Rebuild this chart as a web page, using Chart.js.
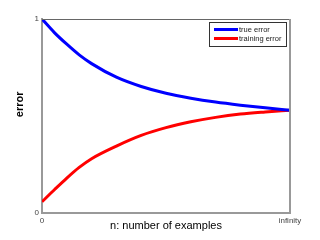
<!DOCTYPE html>
<html>
<head>
<meta charset="utf-8">
<script src="https://cdn.jsdelivr.net/npm/chart.js@4/dist/chart.umd.min.js"></script>
<style>
html,body{margin:0;padding:0;background:#fff;}
#c{display:block;}
</style>
</head>
<body>
<canvas id="c" width="320" height="240"></canvas>
<script>
// Data
const nValues = [0, 5, 10, 15, 20, 30, 40, 50, 60, 70, 80, 90, 100];
const trueError = [1.0, 0.93, 0.87, 0.815, 0.77, 0.70, 0.652, 0.617, 0.592, 0.572, 0.556, 0.542, 0.53];
const trainingError = [0.058, 0.12, 0.18, 0.235, 0.28, 0.345, 0.40, 0.44, 0.47, 0.493, 0.51, 0.521, 0.53];
const seriesNames = ["true error", "training error"];
const xTickValues = [0, 100];
const xTickLabels = ["0", "infinity"];
const yTickValues = [0, 1];
const yTickLabels = ["0", "1"];
const xTitle = "n: number of examples";
const yTitle = "error";

const FONT = "'Liberation Sans', Arial, Helvetica, sans-serif";

function toPoints(xs, ys) { return xs.map((x, i) => ({x: x, y: ys[i]})); }

const boxPlugin = {
  id: 'boxPlugin',
  afterDraw(chart) {
    const ctx = chart.ctx;
    const a = chart.chartArea;
    ctx.save();
    // top and right box lines
    ctx.strokeStyle = '#666';
    ctx.lineWidth = 1;
    ctx.beginPath();
    ctx.moveTo(a.left, a.top + 0.5);
    ctx.lineTo(a.right, a.top + 0.5);
    ctx.stroke();
    ctx.strokeStyle = '#999';
    ctx.lineWidth = 2;
    ctx.beginPath();
    ctx.moveTo(a.right, a.top);
    ctx.lineTo(a.right, a.bottom);
    ctx.stroke();

    // y title
    ctx.fillStyle = '#000';
    ctx.font = "bold 11px " + FONT;
    ctx.textAlign = 'center';
    ctx.textBaseline = 'middle';
    ctx.translate(20, a.top + (a.bottom - a.top) * 0.44);
    ctx.rotate(-Math.PI / 2);
    ctx.fillText(yTitle, 0, 0);
    ctx.restore();

    // legend box
    ctx.save();
    const dsets = chart.data.datasets;
    const bx = a.right - 81, by = a.top + 3, bw = 77, bh = 24;
    ctx.fillStyle = '#fff';
    ctx.fillRect(bx, by, bw, bh);
    ctx.strokeStyle = '#333';
    ctx.lineWidth = 1;
    ctx.strokeRect(bx + 0.5, by + 0.5, bw, bh);
    ctx.font = "7.5px " + FONT;
    ctx.textAlign = 'left';
    ctx.textBaseline = 'middle';
    dsets.forEach((d, i) => {
      const yy = by + 7.5 + i * 9;
      ctx.strokeStyle = d.borderColor;
      ctx.lineWidth = 3;
      ctx.beginPath();
      ctx.moveTo(bx + 5, yy);
      ctx.lineTo(bx + 29, yy);
      ctx.stroke();
      ctx.fillStyle = '#222';
      ctx.fillText(d.label, bx + 30, yy);
    });
    ctx.restore();
  }
};

new Chart(document.getElementById('c'), {
  type: 'line',
  data: {
    datasets: [
      {label: seriesNames[0], data: toPoints(nValues, trueError), borderColor: '#0000ff', borderWidth: 3, pointRadius: 0, cubicInterpolationMode: 'monotone', fill: false},
      {label: seriesNames[1], data: toPoints(nValues, trainingError), borderColor: '#ff0000', borderWidth: 3, pointRadius: 0, cubicInterpolationMode: 'monotone', fill: false}
    ]
  },
  options: {
    responsive: false,
    animation: false,
    devicePixelRatio: 1,
    layout: {padding: {left: 0, top: 19, right: 30, bottom: 0}},
    plugins: {legend: {display: false}, tooltip: {enabled: false}},
    scales: {
      x: {
        type: 'linear', min: 0, max: 100,
        afterBuildTicks: s => { s.ticks = xTickValues.map(v => ({value: v})); },
        afterFit: s => { s.height = 27; },
        ticks: {
          autoSkip: false, maxRotation: 0, padding: 3, color: '#444',
          font: {family: FONT, size: 8},
          callback: (v) => xTickLabels[xTickValues.indexOf(v)]
        },
        grid: {display: false, drawTicks: false},
        border: {display: true, color: '#999', width: 2},
        title: {display: true, text: xTitle, color: '#000', font: {family: FONT, size: 11}, padding: {top: 0, bottom: 7}}
      },
      y: {
        type: 'linear', min: 0, max: 1,
        afterBuildTicks: s => { s.ticks = yTickValues.map(v => ({value: v})); },
        afterFit: s => { s.width = 42; },
        ticks: {
          autoSkip: false, padding: 3, color: '#444',
          font: {family: FONT, size: 8},
          callback: (v) => yTickLabels[yTickValues.indexOf(v)]
        },
        grid: {display: false, drawTicks: false},
        border: {display: true, color: '#999', width: 2}
      }
    }
  },
  plugins: [boxPlugin]
});
</script>
</body>
</html>
